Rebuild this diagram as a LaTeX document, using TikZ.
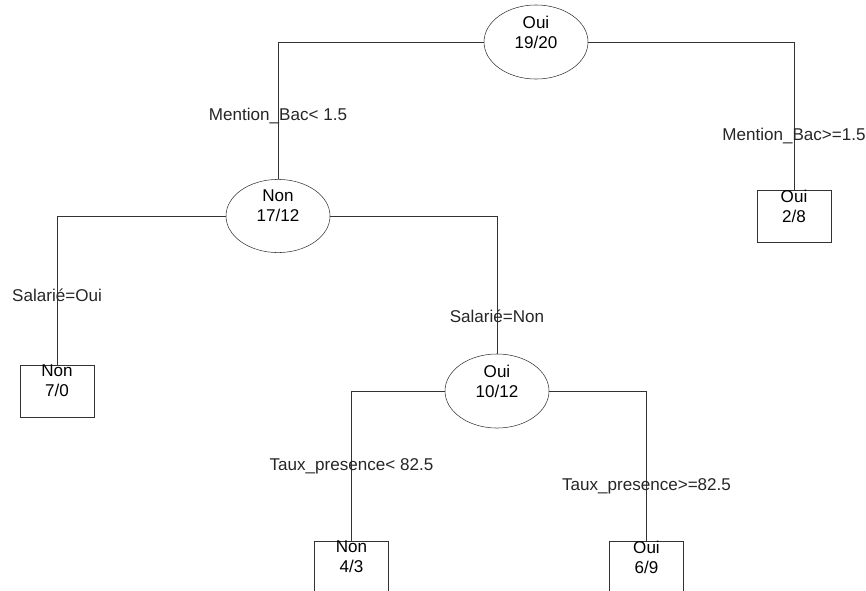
\documentclass[tikz,border=0pt]{standalone}
\usepackage{fontspec}
\setmainfont{Liberation Sans}
\usepackage{tikz}
\usetikzlibrary{shapes.geometric}

\begin{document}
\begin{tikzpicture}[x=0.75pt,y=-0.75pt,
  font=\fontsize{12.8}{15}\selectfont,
  split/.style={draw=black!80,ellipse,inner sep=0pt,align=center,
    minimum width=78pt,minimum height=51pt},
  leaf/.style={draw=black!80,rectangle,inner sep=0pt,align=center,
    minimum width=55.5pt,minimum height=36pt},
  lbl/.style={inner sep=1pt,text=black!85},
  edge/.style={draw=black!80,line width=0.75pt}]
  \useasboundingbox (0,0) rectangle (866,590);
  \clip (0,0) rectangle (866,590);
  \node[split] (root) at (536,42) {Oui\\19/20\\\mbox{}};
  \node[split] (n1) at (278,216) {Non\\17/12\\\mbox{}};
  \node[leaf] (l1) at (794,216) {Oui\\2/8\\\mbox{}};
  \node[leaf] (l2) at (57,391) {Non\\7/0\\\mbox{}};
  \node[split] (n2) at (497,391) {Oui\\10/12\\\mbox{}};
  \node[leaf] (l3) at (351.5,567) {Non\\4/3\\\mbox{}};
  \node[leaf] (l4) at (646.5,567) {Oui\\6/9\\\mbox{}};
  \draw[edge] (root.west) -| node[lbl,pos=0.768] (c1) {Mention\_Bac< 1.5} (n1.north);
  \draw[edge] (root.east) -| node[lbl,pos=0.82] (c2) {Mention\_Bac>=1.5} (l1.north);
  \draw[edge] (n1.west) -| node[lbl,pos=0.765] (c3) {Salarié=Oui} (l2.north);
  \draw[edge] (n1.east) -| node[lbl,pos=0.865] (c4) {Salarié=Non} (n2.north);
  \draw[edge] (n2.west) -| node[lbl,pos=0.75] (c5) {Taux\_presence< 82.5} (l3.north);
  \draw[edge] (n2.east) -| node[lbl,pos=0.82] (c6) {Taux\_presence>=82.5} (l4.north);
\end{tikzpicture}
\end{document}
